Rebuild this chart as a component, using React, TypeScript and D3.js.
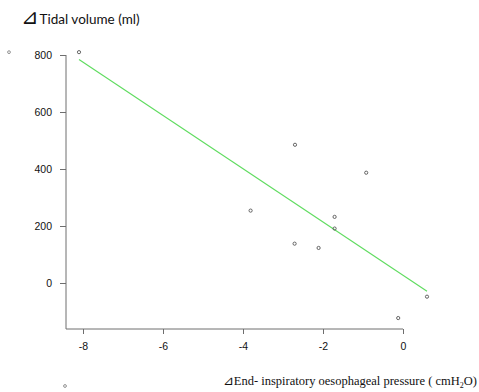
import { useEffect, useRef } from 'react'
import * as d3 from 'd3'

// pressure change (cmH2O) vs tidal volume change (ml)
const pressure = [-8.1, -2.7, -0.92, -3.81, -1.71, -1.71, -2.71, -2.11, 0.6, -0.12]
const volume = [810, 485, 387, 254, 232, 191, 138, 123, -48, -123]
const xTicks = [-8, -6, -4, -2, 0]
const yTicks = [0, 200, 400, 600, 800]

const W = 479
const H = 392

export default function App() {
  const svgRef = useRef<SVGSVGElement | null>(null)

  useEffect(() => {
    if (!svgRef.current) return
    const svg = d3.select(svgRef.current)
    svg.selectAll('*').remove()

    const x = d3.scaleLinear().domain([-8, 0]).range([83, 403])
    const y = d3.scaleLinear().domain([0, 800]).range([283, 55])
    const xMin = x.invert(66)
    const yMin = y.invert(329)
    const axisCol = '#6e6e6e'
    const fmt = (d: d3.NumberValue) => String(d)

    // L-shaped frame
    svg.append('line')
      .attr('x1', x(xMin)).attr('x2', x(xMin))
      .attr('y1', y(800)).attr('y2', y(yMin))
      .attr('stroke', axisCol).attr('stroke-width', 1)
    svg.append('line')
      .attr('x1', x(xMin)).attr('x2', x(0))
      .attr('y1', y(yMin)).attr('y2', y(yMin))
      .attr('stroke', axisCol).attr('stroke-width', 1)

    const yAx = svg.append('g').attr('transform', `translate(${x(xMin)},0)`)
      .call(d3.axisLeft(y).tickValues(yTicks).tickSize(6).tickPadding(8).tickFormat(fmt))
    yAx.select('.domain').remove()
    yAx.selectAll('line').attr('stroke', axisCol)
    yAx.selectAll('text').attr('fill', '#111').attr('font-size', 10.5)
      .attr('font-family', 'Liberation Sans, Arial, sans-serif')

    const xAx = svg.append('g').attr('transform', `translate(0,${y(yMin)})`)
      .call(d3.axisBottom(x).tickValues(xTicks).tickSize(5).tickPadding(9).tickFormat(fmt))
    xAx.select('.domain').remove()
    xAx.selectAll('line').attr('stroke', axisCol)
    xAx.selectAll('text').attr('fill', '#111').attr('font-size', 10.5)
      .attr('font-family', 'Liberation Sans, Arial, sans-serif')

    // least squares fit
    const mx = d3.mean(pressure) as number
    const my = d3.mean(volume) as number
    const sxy = d3.sum(pressure, (v, i) => (v - mx) * (volume[i] - my))
    const sxx = d3.sum(pressure, v => (v - mx) ** 2)
    const slope = sxy / sxx
    const icpt = my - slope * mx
    const [x0, x1] = d3.extent(pressure) as [number, number]
    svg.append('line')
      .attr('x1', x(x0)).attr('y1', y(icpt + slope * x0))
      .attr('x2', x(x1)).attr('y2', y(icpt + slope * x1))
      .attr('stroke', '#5fdc5f').attr('stroke-width', 1.1)

    svg.append('g').selectAll('circle')
      .data(pressure)
      .join('circle')
      .attr('cx', d => x(d)).attr('cy', (_, i) => y(volume[i]))
      .attr('r', 1.6)
      .attr('fill', 'none').attr('stroke', '#555').attr('stroke-width', 0.9)

    // stray markers left over in the figure
    svg.append('circle').attr('cx', 9).attr('cy', y(810)).attr('r', 1.4)
      .attr('fill', 'none').attr('stroke', '#777').attr('stroke-width', 0.8)
    svg.append('circle').attr('cx', x(xMin) - 1).attr('cy', 386).attr('r', 1.4)
      .attr('fill', 'none').attr('stroke', '#777').attr('stroke-width', 0.8)
  }, [])

  return (
    <div style={{ position: 'fixed', left: 0, top: 0, width: W, height: H, background: '#fff' }}>
      <svg ref={svgRef} width={W} height={H} style={{ position: 'absolute', inset: 0 }} />
      <svg width={W} height={H} style={{ position: 'absolute', inset: 0, pointerEvents: 'none' }}>
        <text x={21} y={24} fontSize={13.5} fill="#111" fontFamily="Lato, Open Sans, sans-serif">
          <tspan fontFamily="DejaVu Sans" fontSize={21}>⊿</tspan><tspan dx={1}>Tidal volume (ml)</tspan>
        </text>
        <text x={477} y={385} textAnchor="end" fontSize={12.5} fill="#111" fontFamily="Liberation Serif, Times New Roman, serif">
          ⊿End- inspiratory oesophageal pressure ( cmH<tspan fontSize={8} dy={2.5}>2</tspan><tspan dy={-2.5}>O)</tspan>
        </text>
      </svg>
    </div>
  )
}
